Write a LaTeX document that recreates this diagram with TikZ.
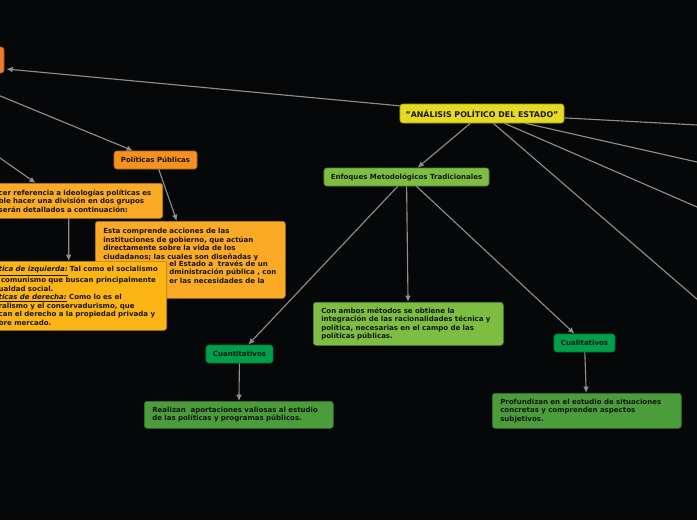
\documentclass[tikz,border=0pt]{standalone}
\usepackage{fontspec}
\setmainfont{DejaVu Sans}
\usepackage{xcolor}
\usepackage{tikz}
\usetikzlibrary{arrows.meta}
\definecolor{canvas}    {HTML}{060709}
\definecolor{ink}       {HTML}{161616}
\definecolor{wire}      {HTML}{8E8E8E}
\definecolor{rootyel}   {HTML}{E6DA22}
\definecolor{limegreen} {HTML}{7CBD42}
\definecolor{kellygreen}{HTML}{00A04B}
\definecolor{leafgreen} {HTML}{4A9D3A}
\definecolor{tangerine} {HTML}{F6901E}
\definecolor{redorange} {HTML}{EE7B30}
\definecolor{amber}     {HTML}{FAAA24}
\definecolor{goldamber} {HTML}{FDB515}

\begin{document}
\begin{tikzpicture}[
    x=0.025cm, y=-0.025cm,
    topic/.style={draw=#1!70!black, fill=#1, rounded corners=2pt,
                  line width=0.4pt, inner sep=0pt, align=center,
                  font=\fontsize{5}{6.05}\selectfont\bfseries, text=ink},
    note/.style={draw=#1!70!black, fill=#1, rounded corners=2pt,
                 line width=0.4pt, inner xsep=0.2cm, inner ysep=1pt,
                 align=left, anchor=north west,
                 font=\fontsize{5}{6.05}\selectfont\bfseries, text=ink},
    arr/.style={-{Latex[length=4.5pt,width=4pt]}, line width=0.8pt, color=wire},
  ]
    \useasboundingbox (0,0) rectangle (697,520);
    \fill[canvas] (0,0) rectangle (697,520);
    \clip (0,0) rectangle (697,520);

    \coordinate (izq1) at (-30,83.5);
    \coordinate (izq2) at (-30,137);
    \coordinate (der1) at (720,126.2);
    \coordinate (der2) at (720,167.2);
    \coordinate (der3) at (720,217);
    \coordinate (der4) at (720,319);

    \node[topic=rootyel, minimum width=4.1cm, minimum height=0.475cm,
          font=\fontsize{5.6}{6.8}\selectfont\bfseries] (estado)
      at (482,113.5) {"ANÁLISIS POLÍTICO DEL ESTADO"};

    \node[topic=redorange, minimum width=2.5cm, minimum height=0.65cm] (previo)
      at (-46,60) {};

    \node[topic=limegreen, minimum width=4.125cm, minimum height=0.45cm] (enfoques)
      at (406.5,177) {Enfoques Metodológicos Tradicionales};

    \node[note=limegreen, text width=4.35cm, minimum height=1.075cm] (ambos)
      at (313,302) {Con ambos métodos se obtiene la\\integración de las racionalidades técnica y\\política, necesarias en el campo de las\\políticas públicas.};

    \node[topic=kellygreen, minimum width=1.675cm, minimum height=0.45cm] (cuanti)
      at (239.5,354) {Cuantitativos};

    \node[note=leafgreen, text width=4.325cm, minimum height=0.675cm] (realizan)
      at (144,401) {Realizan~ aportaciones valiosas al estudio\\de las políticas y programas públicos.};

    \node[topic=kellygreen, minimum width=1.525cm, minimum height=0.45cm] (cuali)
      at (584.5,343) {Cualitativos};

    \node[note=leafgreen, text width=4.325cm, minimum height=0.875cm] (profundizan)
      at (492,393) {Profundizan en el estudio de situaciones\\concretas y comprenden aspectos\\subjetivos.};

    \node[topic=tangerine, minimum width=2.075cm, minimum height=0.45cm] (publicas)
      at (155.5,160) {Políticas Públicas};

    \node[note=amber, text width=4.35cm, minimum height=1.925cm,
          text height=7.9pt, text depth=44.9pt] (comprende)
      at (95,221) {Esta comprende acciones de las\\instituciones de gobierno, que actúan\\directamente sobre la vida de los\\ciudadanos; las cuales son diseñadas y};
    \node[font=\fontsize{5}{6.05}\selectfont\bfseries, text=ink, align=left,
          inner sep=0pt, anchor=north west] (comprendeb)
      at (169,260.2) {el Estado a~ través de un\\dministración pública , con\\er las necesidades de la};

    \node[note=amber, text width=3.9cm, minimum height=0.875cm, anchor=north east] (ideologias)
      at (163,183) {cer referencia a ideologías políticas es\\ble hacer una división en dos grupos\\serán detallados a continuación:};

    \node[note=goldamber, text width=4.0cm, minimum height=1.725cm, anchor=north east] (corrientes)
      at (167,261) {\underline{\textit{tica de izquierda:}} Tal como el socialismo\\~comunismo que buscan principalmente\\ualdad social.\\\underline{\textit{ticas de derecha:}} Como lo es el\\ralismo y el conservadurismo, que\\can el derecho a la propiedad privada y\\bre mercado.};

    \draw[arr] (estado)      -- ([shift={(2,9)}]previo.east);
    \draw[arr] (estado)      -- (enfoques);
    \draw[arr] (estado)      -- (der1);
    \draw[arr] (estado)      -- (der2);
    \draw[arr] (estado)      -- (der3);
    \draw[arr] (estado)      -- (der4);
    \draw[arr] (enfoques)    -- (cuanti);
    \draw[arr] (enfoques)    -- (ambos);
    \draw[arr] (enfoques)    -- (cuali);
    \draw[arr] (cuanti)      -- (realizan);
    \draw[arr] (cuali)       -- (profundizan);
    \draw[arr] (izq1)        -- (publicas);
    \draw[arr] (publicas)    -- (comprende);
    \draw[arr] (izq2)        -- ([xshift=-1.025cm]ideologias.north);
    \draw[arr] ([xshift=-0.2cm]ideologias.south) -- ([xshift=-0.25cm]corrientes.north);
  \end{tikzpicture}
\end{document}
